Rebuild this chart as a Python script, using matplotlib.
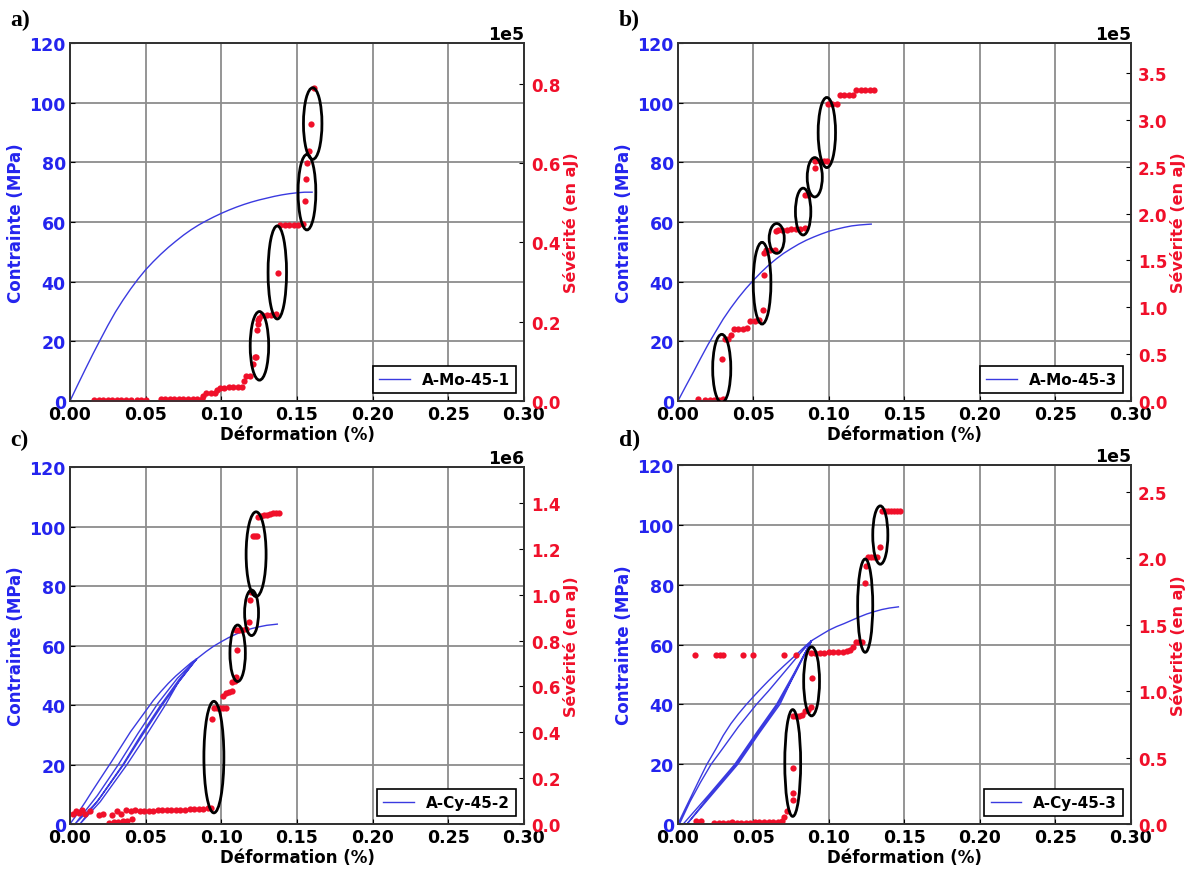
import numpy as np
import matplotlib
matplotlib.use("Agg")
import matplotlib.pyplot as plt
from matplotlib.patches import Ellipse
from matplotlib.ticker import ScalarFormatter

# ---- panel a : A-Mo-45-1 ----
strain_a = [0, 0.005, 0.01, 0.015, 0.02, 0.025, 0.03, 0.035, 0.04, 0.045, 0.05, 0.055,
            0.06, 0.065, 0.07, 0.075, 0.08, 0.085, 0.09, 0.095, 0.10, 0.105, 0.11,
            0.115, 0.12, 0.125, 0.13, 0.135, 0.14, 0.145, 0.15, 0.155, 0.16]
stress_a = [0, 5.3, 10.5, 15.6, 20.5, 25.3, 29.8, 33.8, 37.5, 40.9, 44, 46.7,
            49.2, 51.5, 53.6, 55.6, 57.4, 59, 60.4, 61.7, 62.9, 64, 65,
            65.9, 66.7, 67.4, 68, 68.6, 69.1, 69.5, 69.8, 70, 70]
sev_x_a = [0.016, 0.019, 0.022, 0.025, 0.028, 0.031, 0.034, 0.037, 0.040, 0.044, 0.047, 0.050,
           0.060, 0.063, 0.066, 0.069, 0.072, 0.075, 0.078, 0.081, 0.084, 0.087,
           0.088, 0.090, 0.093, 0.096, 0.097,
           0.099, 0.102, 0.105, 0.108, 0.111, 0.114,
           0.115, 0.116, 0.119,
           0.121, 0.122, 0.123, 0.1235, 0.124, 0.1245, 0.125,
           0.127, 0.130, 0.133, 0.136,
           0.1375,
           0.139, 0.142, 0.145, 0.148, 0.151, 0.154,
           0.155, 0.156, 0.1565, 0.158, 0.159, 0.161]
sev_y_a = [0.002, 0.002, 0.002, 0.002, 0.002, 0.002, 0.002, 0.002, 0.002, 0.002, 0.002, 0.002,
           0.004, 0.004, 0.004, 0.005, 0.005, 0.005, 0.005, 0.006, 0.006, 0.006,
           0.012, 0.020, 0.020, 0.021, 0.028,
           0.034, 0.034, 0.035, 0.035, 0.035, 0.036,
           0.050, 0.064, 0.064,
           0.093, 0.110, 0.110, 0.180, 0.195, 0.205, 0.210,
           0.218, 0.218, 0.218, 0.219,
           0.323,
           0.443, 0.445, 0.445, 0.445, 0.445, 0.446,
           0.505, 0.561, 0.600, 0.630, 0.698, 0.790]
ell_a = [(0.1252, 18.5, 0.0122, 23), (0.137, 43.1, 0.0122, 31.2),
         (0.1566, 70, 0.0117, 25.3), (0.1604, 93, 0.0122, 24)]

# ---- panel b : A-Mo-45-3 ----
strain_b = [0, 0.005, 0.01, 0.015, 0.02, 0.025, 0.03, 0.035, 0.04, 0.045, 0.05, 0.055,
            0.06, 0.065, 0.07, 0.075, 0.08, 0.085, 0.09, 0.095, 0.10, 0.105, 0.11,
            0.115, 0.12, 0.125, 0.128]
stress_b = [0, 4.8, 9.5, 14.3, 19, 23.3, 27.5, 31.2, 34.6, 37.7, 40.5, 43.1,
            45.5, 47.6, 49.5, 51.1, 52.6, 53.9, 55, 56, 56.9, 57.6, 58.2,
            58.7, 59, 59.2, 59.3]
sev_x_b = [0.013, 0.018, 0.021, 0.024, 0.027, 0.030, 0.029, 0.031, 0.033, 0.035,
           0.037, 0.040, 0.043, 0.046, 0.048, 0.051, 0.054, 0.0565, 0.057, 0.057,
           0.058, 0.061, 0.064, 0.065, 0.066, 0.069, 0.072, 0.075, 0.078, 0.081, 0.084,
           0.084, 0.086, 0.0905, 0.091, 0.094, 0.097, 0.099, 0.0995, 0.102, 0.105,
           0.107, 0.110, 0.113, 0.116, 0.118, 0.121, 0.124, 0.127, 0.130]
sev_y_b = [0.02, 0.01, 0.01, 0.01, 0.01, 0.02, 0.445, 0.66, 0.66, 0.70,
           0.765, 0.765, 0.765, 0.78, 0.85, 0.85, 0.86, 0.97, 1.35, 1.58,
           1.61, 1.61, 1.61, 1.81, 1.83, 1.83, 1.83, 1.84, 1.84, 1.84, 1.85,
           2.20, 2.20, 2.49, 2.56, 2.56, 2.56, 2.56, 3.17, 3.17, 3.17,
           3.27, 3.27, 3.27, 3.27, 3.32, 3.32, 3.32, 3.32, 3.32]
ell_b = [(0.029, 10.9, 0.012, 22.9), (0.0557, 39.5, 0.0117, 27.4),
         (0.0654, 54.5, 0.010, 10), (0.0829, 63.5, 0.0102, 15.7),
         (0.0906, 75, 0.010, 13.2), (0.0986, 90, 0.0115, 23.5)]

# ---- panel c : A-Cy-45-2 (load / unload cycles) ----
strain_c = [0, 0.005, 0.01, 0.015, 0.02, 0.0275, 0.035, 0.04, 0.045, 0.05, 0.055,
            0.06, 0.065, 0.07, 0.075, 0.08, 0.0837,
            0.072, 0.063, 0.050, 0.0377, 0.020, 0.0066,
            0.020, 0.035, 0.047, 0.060, 0.072, 0.0837,
            0.070, 0.061, 0.048, 0.0355, 0.018, 0.0033,
            0.018, 0.032, 0.045, 0.058, 0.071, 0.0837,
            0.09, 0.095, 0.10, 0.105, 0.11, 0.115, 0.12, 0.125, 0.13, 0.137]
stress_c = [0, 3.5, 7.3, 11.3, 15.2, 21, 27, 31, 34.5, 38, 41.5,
            44.5, 47.3, 49.8, 52, 54.2, 55.5,
            48, 40, 29.5, 20, 7.5, 0,
            9, 20, 30, 40, 48.5, 55.5,
            46.5, 40, 30, 20, 7.5, 0,
            9.5, 20, 30.5, 40.5, 49, 55.5,
            58, 59.8, 61.3, 62.7, 63.9, 64.9, 65.7, 66.3, 66.8, 67.2]
sev_x_c = [0.002, 0.004, 0.006, 0.008, 0.010, 0.013, 0.019, 0.022, 0.028, 0.031, 0.034, 0.037, 0.040, 0.043,
           0.026, 0.029, 0.032, 0.035, 0.038, 0.041,
           0.046, 0.049, 0.052, 0.055, 0.058, 0.061, 0.064, 0.067, 0.070, 0.073, 0.076, 0.079,
           0.082, 0.085, 0.088, 0.091, 0.093,
           0.094,
           0.095, 0.097, 0.099, 0.101, 0.103,
           0.101, 0.103, 0.105, 0.107,
           0.107, 0.109,
           0.110, 0.1105,
           0.110, 0.112, 0.114, 0.116,
           0.118, 0.119, 0.1195,
           0.121, 0.122, 0.1235,
           0.124, 0.126, 0.128, 0.130, 0.132, 0.134, 0.136, 0.138]
sev_y_c = [0.045, 0.055, 0.050, 0.060, 0.045, 0.055, 0.040, 0.045, 0.040, 0.055, 0.045, 0.060, 0.055, 0.060,
           0.005, 0.010, 0.008, 0.012, 0.015, 0.020,
           0.055, 0.057, 0.058, 0.058, 0.059, 0.059, 0.060, 0.061, 0.061, 0.062, 0.063, 0.064,
           0.065, 0.066, 0.067, 0.068, 0.070,
           0.457,
           0.504, 0.504, 0.504, 0.504, 0.504,
           0.560, 0.570, 0.575, 0.580,
           0.620, 0.623,
           0.642, 0.758,
           0.848, 0.848, 0.848, 0.850,
           0.880, 0.975, 1.010,
           1.255, 1.255, 1.258,
           1.340, 1.345, 1.350, 1.350, 1.352, 1.355, 1.355, 1.356]
ell_c = [(0.0951, 22.5, 0.0132, 37.5), (0.1108, 57.4, 0.0102, 19),
         (0.120, 71, 0.0092, 15.3), (0.123, 90.7, 0.0132, 28.5)]

# ---- panel d : A-Cy-45-3 (load / unload cycles) ----
strain_d = [0, 0.005, 0.01, 0.015, 0.019, 0.025, 0.03, 0.035, 0.04, 0.045, 0.05, 0.055,
            0.06, 0.065, 0.07, 0.075, 0.08, 0.085, 0.0885,
            0.08, 0.07, 0.06, 0.052, 0.04, 0.03, 0.022, 0.015, 0.008, 0.001,
            0.0035, 0.02, 0.0377, 0.052, 0.0653, 0.077, 0.0885,
            0.078, 0.0675, 0.054, 0.0397, 0.022, 0.006,
            0.021, 0.0387, 0.053, 0.0663, 0.0778, 0.0885,
            0.095, 0.10, 0.105, 0.11, 0.115, 0.12, 0.125, 0.13, 0.135, 0.14, 0.146]
stress_d = [0, 5.3, 10.5, 15.7, 19.8, 25, 29.6, 33.5, 36.8, 39.8, 42.6, 45.3,
            47.9, 50.4, 52.8, 55.1, 57.4, 59.8, 61.3,
            56.5, 50.5, 44.5, 40, 32.5, 25.5, 20, 14, 7.5, 0,
            0, 9.5, 20, 30.5, 40, 50.5, 61.3,
            51, 40, 30.5, 20, 9.5, 0,
            9.5, 20, 30.5, 40, 50.5, 61.3,
            63.3, 64.8, 66, 67, 68.1, 69.2, 70.2, 71, 71.7, 72.2, 72.6]
sev_x_d = [0.011, 0.025, 0.028, 0.030, 0.043, 0.050, 0.070, 0.078,
           0.012, 0.015,
           0.024, 0.027, 0.030, 0.033, 0.036, 0.039, 0.042, 0.045, 0.048, 0.051, 0.054, 0.057,
           0.060, 0.063, 0.066, 0.069,
           0.0705, 0.072,
           0.076, 0.076, 0.0765,
           0.076, 0.078, 0.080, 0.082,
           0.084, 0.086, 0.088,
           0.089,
           0.088, 0.091, 0.094, 0.097, 0.100, 0.103, 0.106, 0.109, 0.112, 0.114,
           0.116, 0.118, 0.120, 0.122,
           0.124, 0.1245,
           0.126, 0.128, 0.130, 0.132,
           0.134,
           0.135, 0.137, 0.139, 0.141, 0.143, 0.145, 0.147]
sev_y_d = [1.273, 1.273, 1.273, 1.273, 1.273, 1.273, 1.273, 1.273,
           0.02, 0.02,
           0.005, 0.005, 0.006, 0.006, 0.015, 0.008, 0.008, 0.010, 0.010, 0.012, 0.012, 0.012,
           0.015, 0.015, 0.018, 0.02,
           0.05, 0.10,
           0.18, 0.23, 0.42,
           0.81, 0.81, 0.815, 0.82,
           0.85, 0.86, 0.88,
           1.10,
           1.29, 1.29, 1.29, 1.29, 1.293, 1.293, 1.293, 1.295, 1.30, 1.31,
           1.33, 1.37, 1.37, 1.37,
           1.81, 1.94,
           2.01, 2.01, 2.01, 2.01,
           2.085,
           2.355, 2.355, 2.355, 2.355, 2.355, 2.355, 2.355]
ell_d = [(0.076, 20.4, 0.0105, 35.7), (0.0885, 47.7, 0.0105, 23.1),
         (0.124, 73, 0.010, 31.2), (0.134, 96.6, 0.010, 19.5)]

x_ticks = [0.00, 0.05, 0.10, 0.15, 0.20, 0.25, 0.30]
stress_ticks = [0, 20, 40, 60, 80, 100, 120]

BLUE = "#2424ee"
LINE_BLUE = "#3a3ae0"
RED = "#f0102a"


def draw_panel(fig, rect, letter, letter_pos, strain, stress, sev_x, sev_y, expo,
               sev_top, sev_ticks, ellipses, name):
    scale = 10.0 ** expo
    ax = fig.add_axes(rect)
    ax2 = ax.twinx()

    ax.plot(strain, stress, color=LINE_BLUE, lw=1.0, label=name)
    ax.set_xlim(0, 0.30)
    ax.set_ylim(0, 120)
    ax.set_xticks(x_ticks)
    ax.set_yticks(stress_ticks)
    ax.set_xticklabels(["%.2f" % v for v in x_ticks])
    ax.grid(True, color="#8c8c8c", lw=1.3)
    ax.set_axisbelow(True)
    ax.tick_params(axis="both", direction="in", labelsize=12.5, pad=3)
    ax.tick_params(axis="y", labelcolor=BLUE)
    for t in ax.get_xticklabels() + ax.get_yticklabels():
        t.set_fontweight("bold")
    ax.set_xlabel("Déformation (%)", fontsize=12, fontweight="bold", labelpad=1)
    ax.set_ylabel("Contrainte (MPa)", fontsize=12, fontweight="bold", color=BLUE, labelpad=3)

    leg = ax.legend(loc="lower right", fancybox=False, framealpha=1, edgecolor="black",
                    prop={"weight": "bold", "size": 11}, handlelength=2.0,
                    borderaxespad=0.5)
    leg.get_frame().set_linewidth(1.2)

    ax2.plot(np.array(sev_x), np.array(sev_y) * scale, "o", color=RED, ms=4.5, mew=0)
    ax2.set_ylim(0, sev_top * scale)
    ax2.set_yticks(np.array(sev_ticks) * scale)
    fmt = ScalarFormatter(useMathText=False)
    fmt.set_powerlimits((expo, expo))
    ax2.yaxis.set_major_formatter(fmt)
    ax2.tick_params(axis="y", direction="in", labelsize=12, labelcolor=RED, pad=5)
    for t in ax2.get_yticklabels():
        t.set_fontweight("bold")
    off = ax2.yaxis.get_offset_text()
    off.set_fontweight("bold")
    off.set_fontsize(12.5)
    off.set_color("black")
    ax2.set_ylabel("Sévérité (en aJ)", fontsize=11.5, fontweight="bold", color=RED, labelpad=2)

    for cx, cy, w, h in ellipses:
        e = Ellipse((cx, cy), w, h, fill=False, edgecolor="black", lw=2.0,
                    transform=ax.transData, zorder=5)
        ax2.add_patch(e)

    for a in (ax, ax2):
        for s in a.spines.values():
            s.set_color("#333333")
            s.set_linewidth(1.3)

    fig.text(letter_pos[0], letter_pos[1], letter, fontsize=17, fontweight="bold",
             family="Liberation Serif", ha="left", va="center")


fig = plt.figure(figsize=(11.9, 8.7), dpi=100)

draw_panel(fig, [0.0588, 0.5379, 0.3815, 0.4115], "a)", (0.009, 0.977),
           strain_a, stress_a, sev_x_a, sev_y_a, 5, 0.903,
           [0, 0.2, 0.4, 0.6, 0.8], ell_a, "A-Mo-45-1")
draw_panel(fig, [0.5697, 0.5379, 0.3807, 0.4115], "b)", (0.520, 0.977),
           strain_b, stress_b, sev_x_b, sev_y_b, 5, 3.82,
           [0, 0.5, 1.0, 1.5, 2.0, 2.5, 3.0, 3.5], ell_b, "A-Mo-45-3")
draw_panel(fig, [0.0588, 0.0517, 0.3815, 0.4103], "c)", (0.009, 0.494),
           strain_c, stress_c, sev_x_c, sev_y_c, 6, 1.557,
           [0, 0.2, 0.4, 0.6, 0.8, 1.0, 1.2, 1.4], ell_c, "A-Cy-45-2")
draw_panel(fig, [0.5697, 0.0517, 0.3807, 0.4126], "d)", (0.520, 0.494),
           strain_d, stress_d, sev_x_d, sev_y_d, 5, 2.70,
           [0, 0.5, 1.0, 1.5, 2.0, 2.5], ell_d, "A-Cy-45-3")

fig.savefig("out.png", dpi=100)
